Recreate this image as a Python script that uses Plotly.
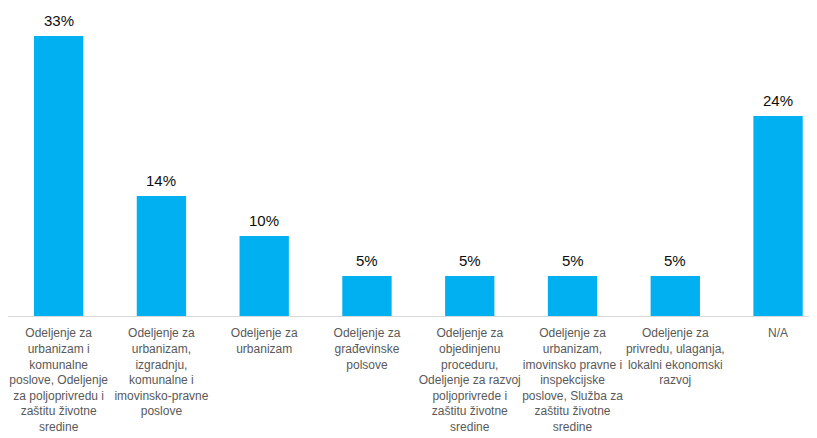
import plotly.graph_objects as go

categories = [
    "Odeljenje za<br>urbanizam i<br>komunalne<br>poslove, Odeljenje<br>za poljoprivredu i<br>zaštitu životne<br>sredine",
    "Odeljenje za<br>urbanizam,<br>izgradnju,<br>komunalne i<br>imovinsko-pravne<br>poslove",
    "Odeljenje za<br>urbanizam",
    "Odeljenje za<br>građevinske<br>polsove",
    "Odeljenje za<br>objedinjenu<br>proceduru,<br>Odeljenje za razvoj<br>poljoprivrede i<br>zaštitu životne<br>sredine",
    "Odeljenje za<br>urbanizam,<br>imovinsko pravne i<br>inspekcijske<br>poslove, Služba za<br>zaštitu životne<br>sredine",
    "Odeljenje za<br>privredu, ulaganja,<br>lokalni ekonomski<br>razvoj",
    "N/A",
]
values = [33.33, 14.29, 9.52, 4.76, 4.76, 4.76, 4.76, 23.81]
labels = ["33%", "14%", "10%", "5%", "5%", "5%", "5%", "24%"]

FONT = "Liberation Sans, Arial, sans-serif"

fig = go.Figure(
    go.Bar(
        x=categories,
        y=values,
        marker=dict(color="#00B0F0", line=dict(width=0)),
        width=0.48,
        cliponaxis=False,
        hoverinfo="skip",
    )
)

for c, v, t in zip(categories, values, labels):
    fig.add_annotation(
        x=c, y=v, text=t, showarrow=False,
        yanchor="bottom", yshift=5,
        font=dict(family=FONT, size=15, color="#0d0d0d"),
    )

fig.update_layout(
    width=809,
    height=430,
    margin=dict(l=0, r=0, t=12, b=122),
    paper_bgcolor="white",
    plot_bgcolor="white",
    showlegend=False,
    font=dict(family=FONT),
)
fig.update_xaxes(
    type="category",
    range=[-0.493, 7.379],
    showline=True,
    linecolor="#d9d9d9",
    linewidth=1,
    ticks="",
    tickangle=0,
    ticklabelstandoff=6,
    tickfont=dict(size=12, color="#595959"),
    showgrid=False,
)
fig.update_yaxes(
    range=[0, 35.24],
    visible=False,
    showgrid=False,
    zeroline=False,
)

fig.write_html("out.html")
